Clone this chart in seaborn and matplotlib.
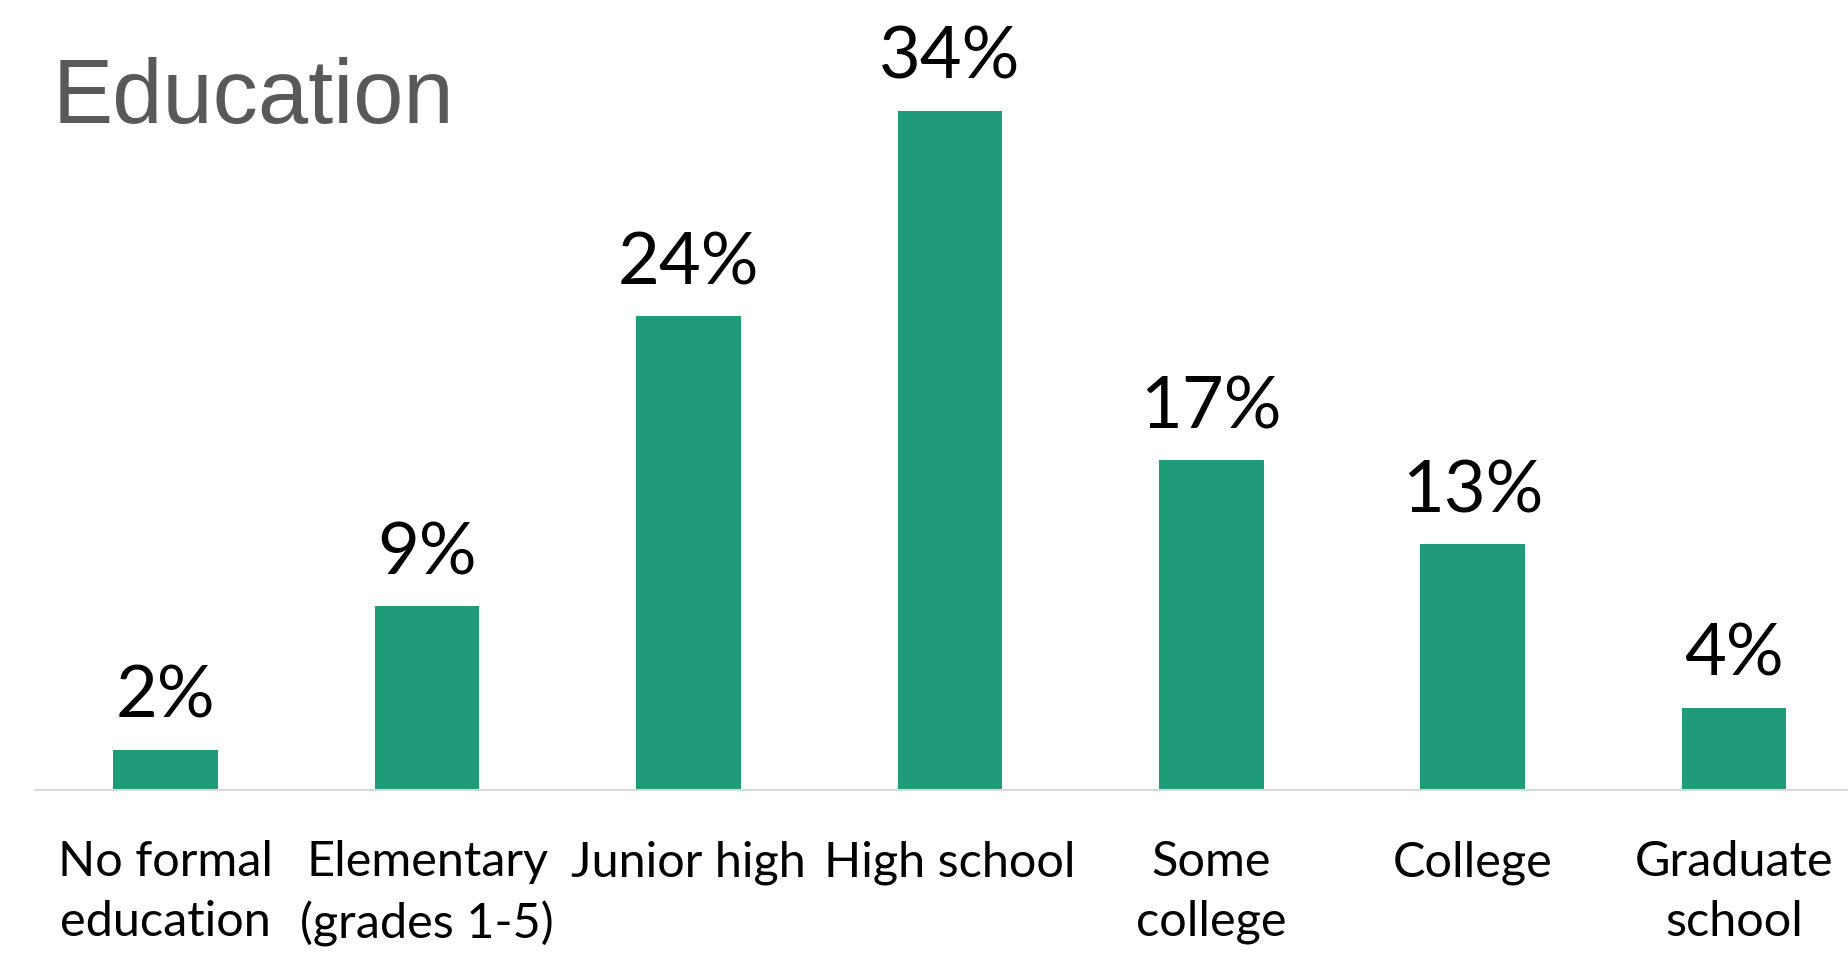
import pandas as pd
import seaborn as sns
import matplotlib.pyplot as plt

# Chart data
categories = ["No formal\neducation", "Elementary\n(grades 1-5)", "Junior high", "High school",
              "Some\ncollege", "College", "Graduate\nschool"]
shares = [2.0, 9.2, 23.7, 34.0, 16.5, 12.3, 4.1]
share_labels = ["2%", "9%", "24%", "34%", "17%", "13%", "4%"]

df = pd.DataFrame({"level": categories, "share": shares})

sns.set_style("white")
plt.rcParams['font.family'] = ['Lato', 'DejaVu Sans']

fig = plt.figure(figsize=(18.48, 9.54), dpi=100)
# axes placed so the bars line up with the reference
ax = fig.add_axes([35 / 1848, (954 - 790.5) / 954, 7 * 261.4 / 1848, 790.5 / 954])

sns.barplot(data=df, x="level", y="share", color="#1F9B7A", width=0.4,
            saturation=1, edgecolor="none", ax=ax)

ax.set_xlim(-0.5, 6.5)
ax.set_ylim(0, 790.5 / 19.97)

# value labels above bars
for i, (v, lab) in enumerate(zip(shares, share_labels)):
    ax.annotate(lab, (i, v), xytext=(0, 23.5), textcoords="offset points",
                ha="center", va="baseline", fontsize=52, color="black")

ax.set_xlabel("")
ax.set_ylabel("")
ax.set_yticks([])
ax.tick_params(axis="x", length=0, pad=36, labelsize=35, labelcolor="black")
for t in ax.get_xticklabels():
    t.set_linespacing(1.42)

for side in ["left", "right", "top"]:
    ax.spines[side].set_visible(False)
ax.spines["bottom"].set_color("#D9D9D9")
ax.spines["bottom"].set_linewidth(1.5)

fig.text(53 / 1848, (954 - 123) / 954, "Education", fontsize=65, color="#595959",
         family=["Liberation Sans", "DejaVu Sans"], ha="left", va="baseline")

fig.savefig("out.png", dpi=100)
